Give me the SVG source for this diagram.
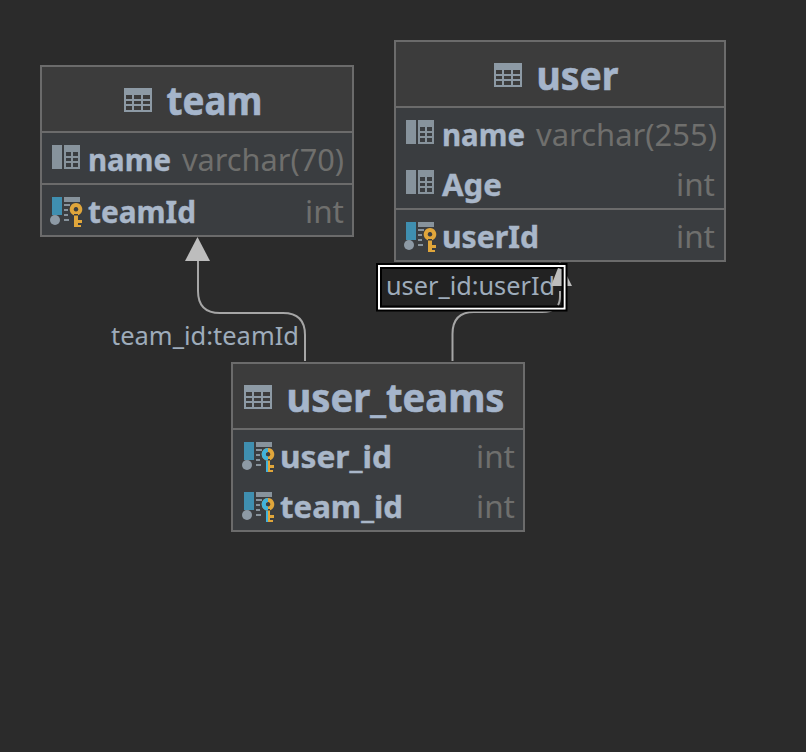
<svg xmlns="http://www.w3.org/2000/svg" width="806" height="752" viewBox="0 0 806 752">
<style>
text{font-family:"Noto Sans","Open Sans","Liberation Sans",sans-serif}
.box{fill:#3a3d40;stroke:#6b6b6b;stroke-width:2}
.head{fill:#3c3c3c}
.div{stroke:#6b6b6b;stroke-width:2}
.title{font-size:39px;font-weight:700;fill:#a5b5cb;stroke:#a5b5cb;stroke-width:.6}
.col{font-size:30px;font-weight:700;fill:#a9b7c9;stroke:#a9b7c9;stroke-width:.4}
.type{font-size:30px;fill:#6f6f6d}
.lab{font-size:25px;fill:#9eacbb}
.line{fill:none;stroke:#a6a6a6;stroke-width:2}
.arrow{fill:#bdbdbd}
</style>
<defs>
<g id="ti" fill="#8d9aa5"><path fill-rule="evenodd" d="M0 0H28V24H0ZM2 7V11H8V7ZM10 7V11H17V7ZM19 7V11H26V7ZM2 13V16H8V13ZM10 13V16H17V13ZM19 13V16H26V13ZM2 18V22H8V18ZM10 18V22H17V18ZM19 18V22H26V18Z"/></g>
<g id="ci"><rect x="0" y="0" width="10" height="24" fill="#87939c"/><path fill-rule="evenodd" fill="#87939c" d="M12 0H28V24H12ZM14 7V11H19V7ZM21 7V11H26V7ZM14 13V16H19V13ZM21 13V16H26V13ZM14 18V22H19V18ZM21 18V22H26V18Z"/></g>
<g id="ki">
<rect x="2" y="0" width="10" height="18" fill="#3f8fb0"/>
<circle cx="5" cy="23" r="5" fill="#8d9aa5"/>
<rect x="14" y="0" width="16" height="5" fill="#87939c"/>
<path d="M14 8h6M14 13h4M14 18h4M14 23h5" stroke="#87939c" stroke-width="2"/>
</g>
<path id="key" fill-rule="evenodd" d="M7 6a6.300 6.300 0 1 1-.01 0ZM7 10a2.300 2.300 0 1 0 .01 0Z M5 17h4v6h4v3h-4v2h3v2h-7Z" fill="#e0a63b"/>
<path id="kb" d="M7 6A6.300 6.300 0 0 0 7 18.600V14.600A2.300 2.300 0 0 1 7 10ZM5 18h2v12h-2Z" fill="#3fb2dc"/>
</defs>
<rect width="806" height="752" fill="#2b2b2b"/>
<g id="connectors">
<path class="line" d="M305 361V335Q305 313 283 313H220Q198 313 198 291V260"/>
<path class="arrow" d="M197.500 237L210 261H185Z"/>
<path class="line" d="M452.500 361V334Q452.500 312 474 312H542Q560 312 560 296V284"/>
<path class="arrow" d="M560 262L572 286H548Z"/>
</g>
<g id="team">
<rect class="box" x="41" y="66" width="312" height="170"/>
<rect class="head" x="42" y="67" width="310" height="65"/>
<path class="div" d="M42 132H352M42 184H352"/>
<use href="#ti" x="124" y="88"/>
<text class="title" x="166.500" y="115" textLength="96" lengthAdjust="spacingAndGlyphs">team</text>
<use href="#ci" x="52" y="145"/>
<text class="col" x="88" y="171" textLength="83" lengthAdjust="spacingAndGlyphs">name</text>
<text class="type" x="344" y="171" text-anchor="end" textLength="162" lengthAdjust="spacingAndGlyphs">varchar(70)</text>
<use href="#ki" x="50" y="197"/>
<use href="#key" x="69" y="197"/>
<text class="col" x="88" y="223" textLength="108" lengthAdjust="spacingAndGlyphs">teamId</text>
<text class="type" x="344" y="223" text-anchor="end" textLength="39" lengthAdjust="spacingAndGlyphs">int</text>
</g>
<g id="user">
<rect class="box" x="395" y="41" width="330" height="220"/>
<rect class="head" x="396" y="42" width="328" height="65"/>
<path class="div" d="M396 107H724M396 209H724"/>
<use href="#ti" x="494" y="63"/>
<text class="title" x="536.500" y="90" textLength="82" lengthAdjust="spacingAndGlyphs">user</text>
<use href="#ci" x="406" y="120"/>
<text class="col" x="442" y="146" textLength="83" lengthAdjust="spacingAndGlyphs">name</text>
<text class="type" x="717" y="146" text-anchor="end" textLength="181" lengthAdjust="spacingAndGlyphs">varchar(255)</text>
<use href="#ci" x="406" y="170"/>
<text class="col" x="442" y="196" textLength="60" lengthAdjust="spacingAndGlyphs">Age</text>
<text class="type" x="715" y="196" text-anchor="end" textLength="39" lengthAdjust="spacingAndGlyphs">int</text>
<use href="#ki" x="404" y="222"/>
<use href="#key" x="423" y="222"/>
<text class="col" x="442" y="248" textLength="97" lengthAdjust="spacingAndGlyphs">userId</text>
<text class="type" x="715" y="248" text-anchor="end" textLength="39" lengthAdjust="spacingAndGlyphs">int</text>
</g>
<g id="user_teams">
<rect class="box" x="232" y="363" width="292" height="168"/>
<rect class="head" x="233" y="364" width="290" height="65"/>
<path class="div" d="M233 429H523"/>
<use href="#ti" x="244" y="385"/>
<text class="title" x="286.500" y="412" textLength="218" lengthAdjust="spacingAndGlyphs">user_teams</text>
<use href="#ki" x="242" y="442"/>
<use href="#key" x="261" y="442"/>
<use href="#kb" x="261" y="442"/>
<text class="col" x="280" y="468" textLength="112" lengthAdjust="spacingAndGlyphs">user_id</text>
<text class="type" x="515" y="468" text-anchor="end" textLength="39" lengthAdjust="spacingAndGlyphs">int</text>
<use href="#ki" x="242" y="492"/>
<use href="#key" x="261" y="492"/>
<use href="#kb" x="261" y="492"/>
<text class="col" x="280" y="518" textLength="123" lengthAdjust="spacingAndGlyphs">team_id</text>
<text class="type" x="515" y="518" text-anchor="end" textLength="39" lengthAdjust="spacingAndGlyphs">int</text>
</g>
<g id="labels">
<text class="lab" x="111" y="345" textLength="188" lengthAdjust="spacingAndGlyphs">team_id:teamId</text>
<rect x="377" y="264" width="189.500" height="46.500" fill="#222" stroke="#000" stroke-width="2"/>
<rect x="379" y="266" width="185.500" height="42.500" fill="none" stroke="#fff" stroke-width="2"/>
<rect x="381" y="268" width="181.500" height="38.500" fill="none" stroke="#000" stroke-width="2"/>
<text class="lab" x="386" y="295" textLength="169" lengthAdjust="spacingAndGlyphs">user_id:userId</text>
<path class="arrow" d="M558 268L561.500 269V286H551Z"/>
<path class="line" d="M560 291V296Q560 302 558 305"/>
</g>
</svg>
